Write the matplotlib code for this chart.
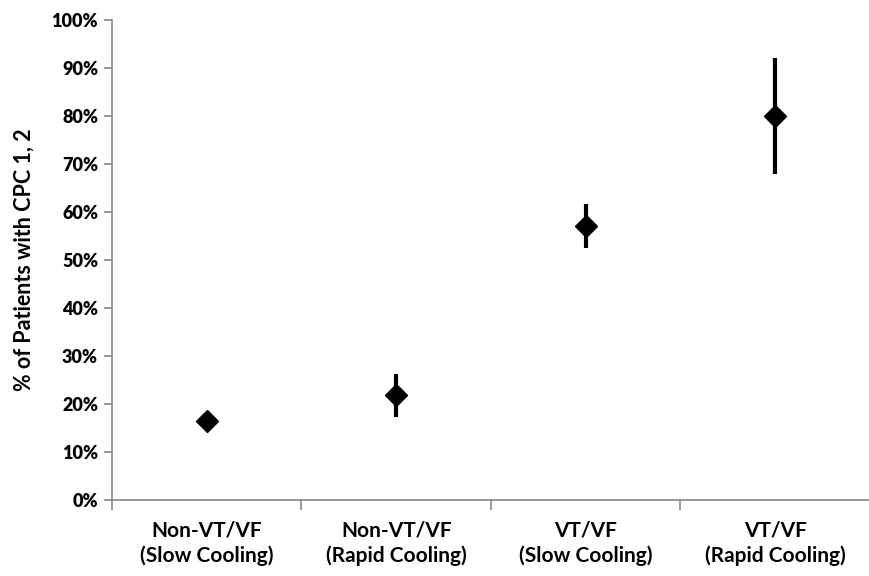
import matplotlib.pyplot as plt
from matplotlib.ticker import FuncFormatter

groups = ['Non-VT/VF\n(Slow Cooling)', 'Non-VT/VF\n(Rapid Cooling)',
          'VT/VF\n(Slow Cooling)', 'VT/VF\n(Rapid Cooling)']
pct = [16.5, 21.8, 57.0, 80.0]
err_low = [1.5, 4.5, 4.5, 12.0]
err_high = [1.5, 4.4, 4.6, 12.2]

plt.rcParams['font.family'] = ['Lato', 'DejaVu Sans']

fig = plt.figure(figsize=(8.7, 5.76), dpi=100)
ax = fig.add_axes([0.1287, 0.132, 0.8713, 0.833])

x = list(range(len(groups)))
ax.errorbar(x, pct, yerr=[err_low, err_high], fmt='D', color='black',
            markersize=11.5, elinewidth=3, capsize=0)

ax.set_xlim(-0.5, 3.5)
ax.set_ylim(0, 100)
ax.set_yticks(range(0, 101, 10))
ax.yaxis.set_major_formatter(FuncFormatter(lambda v, p: f'{int(v)}%'))
for lab in ax.get_yticklabels():
    lab.set_fontweight('heavy')
    lab.set_fontsize(13)

ax.set_xticks(x)
ax.set_xticklabels(groups, fontsize=15, fontweight='bold', linespacing=1.25)
ax.set_xticks([-0.5, 0.5, 1.5, 2.5, 3.5], minor=True)
ax.tick_params(axis='x', which='major', length=0, pad=15)
ax.tick_params(axis='x', which='minor', length=7, color='#888888', width=1.2)
ax.tick_params(axis='y', length=6, color='#888888', width=1.2, pad=4)

ax.set_ylabel('% of Patients with CPC 1, 2', fontsize=15.5, fontweight='bold', labelpad=12)

for s in ['top', 'right']:
    ax.spines[s].set_visible(False)
for s in ['left', 'bottom']:
    ax.spines[s].set_color('#888888')
    ax.spines[s].set_linewidth(1.2)

fig.savefig('out.png', dpi=100)
